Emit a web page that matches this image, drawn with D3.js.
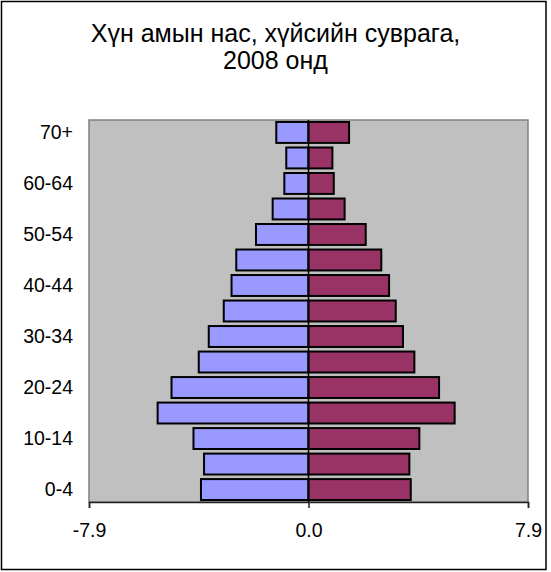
<!DOCTYPE html>
<html>
<head>
<meta charset="utf-8">
<script src="https://cdn.jsdelivr.net/npm/d3@7"></script>
<style>
html,body{margin:0;padding:0;background:#fff;}
svg{display:block;font-family:"Liberation Sans",Arial,sans-serif;}
</style>
</head>
<body>
<svg id="chart" width="551" height="572"></svg>
<script>
const categories = ["0-4","5-9","10-14","15-19","20-24","25-29","30-34","35-39","40-44","45-49","50-54","55-59","60-64","65-69","70+"];
const maleValues   = [3.87,3.76,4.14,5.43,4.93,3.95,3.59,3.05,2.77,2.60,1.89,1.29,0.87,0.80,1.16];
const femaleValues = [3.68,3.63,3.99,5.26,4.70,3.81,3.40,3.14,2.90,2.62,2.06,1.30,0.91,0.86,1.46];
const xTickValues = [-7.9, 0, 7.9];
const titleLines = ["Хүн амын нас, хүйсийн суврага,", "2008 онд"];

const svg = d3.select("#chart");
const plot = {left: 89, right: 528, top: 120, bottom: 502};

// outer chart border
svg.append("rect")
  .attr("x", 1.5).attr("y", 1.5)
  .attr("width", 544.5).attr("height", 568)
  .attr("fill", "#fff").attr("stroke", "#000").attr("stroke-width", 1.5);

// title
svg.append("g").selectAll("text").data(titleLines).join("text")
  .attr("x", 275.5).attr("y", (d, i) => 42 + i * 27.3)
  .attr("text-anchor", "middle")
  .attr("font-size", 25).attr("fill", "#000")
  .text(d => d);

const x = d3.scaleLinear().domain([-7.9, 7.9]).range([plot.left, plot.right]);
const y = d3.scaleBand().domain(categories.slice().reverse())
  .range([plot.top, plot.bottom]).paddingInner(0.18).paddingOuter(0.078);

// plot area
svg.append("rect")
  .attr("x", plot.left).attr("y", plot.top)
  .attr("width", plot.right - plot.left).attr("height", plot.bottom - plot.top)
  .attr("fill", "#C0C0C0").attr("stroke", "#808080").attr("stroke-width", 1.5);

// bars
const rows = categories.map((c, i) => ({cat: c, m: maleValues[i], f: femaleValues[i]}));
const gBars = svg.append("g");
gBars.selectAll("rect.m").data(rows).join("rect").attr("class", "m")
  .attr("x", d => x(-d.m)).attr("y", d => y(d.cat))
  .attr("width", d => x(0) - x(-d.m)).attr("height", y.bandwidth())
  .attr("fill", "#9999FF").attr("stroke", "#000").attr("stroke-width", 2);
gBars.selectAll("rect.f").data(rows).join("rect").attr("class", "f")
  .attr("x", x(0)).attr("y", d => y(d.cat))
  .attr("width", d => x(d.f) - x(0)).attr("height", y.bandwidth())
  .attr("fill", "#993366").attr("stroke", "#000").attr("stroke-width", 2);

// vertical axis line at zero
svg.append("line")
  .attr("x1", x(0)).attr("x2", x(0)).attr("y1", plot.top).attr("y2", plot.bottom)
  .attr("stroke", "#000").attr("stroke-width", 1.5);

// bottom axis
const xAxis = d3.axisBottom(x).tickValues(xTickValues).tickSize(6).tickPadding(15)
  .tickFormat(d => d.toFixed(1));
const gx = svg.append("g").attr("transform", `translate(0,${plot.bottom})`).call(xAxis);
gx.select(".domain").attr("stroke", "#222").attr("stroke-width", 1.5);
gx.selectAll(".tick line").attr("stroke", "#222").attr("stroke-width", 1.5);
gx.selectAll(".tick text").attr("font-size", 19.5).attr("fill", "#000")
  .attr("font-family", "Liberation Sans, Arial, sans-serif");

// category labels (every other one)
const yAxis = d3.axisLeft(y).tickSize(0).tickPadding(16)
  .tickValues(categories.filter((c, i) => i % 2 === 0));
const gy = svg.append("g").attr("transform", `translate(${plot.left},0)`).call(yAxis);
gy.select(".domain").remove();
gy.selectAll(".tick text").attr("font-size", 19.5).attr("fill", "#000")
  .attr("font-family", "Liberation Sans, Arial, sans-serif");
</script>
</body>
</html>
